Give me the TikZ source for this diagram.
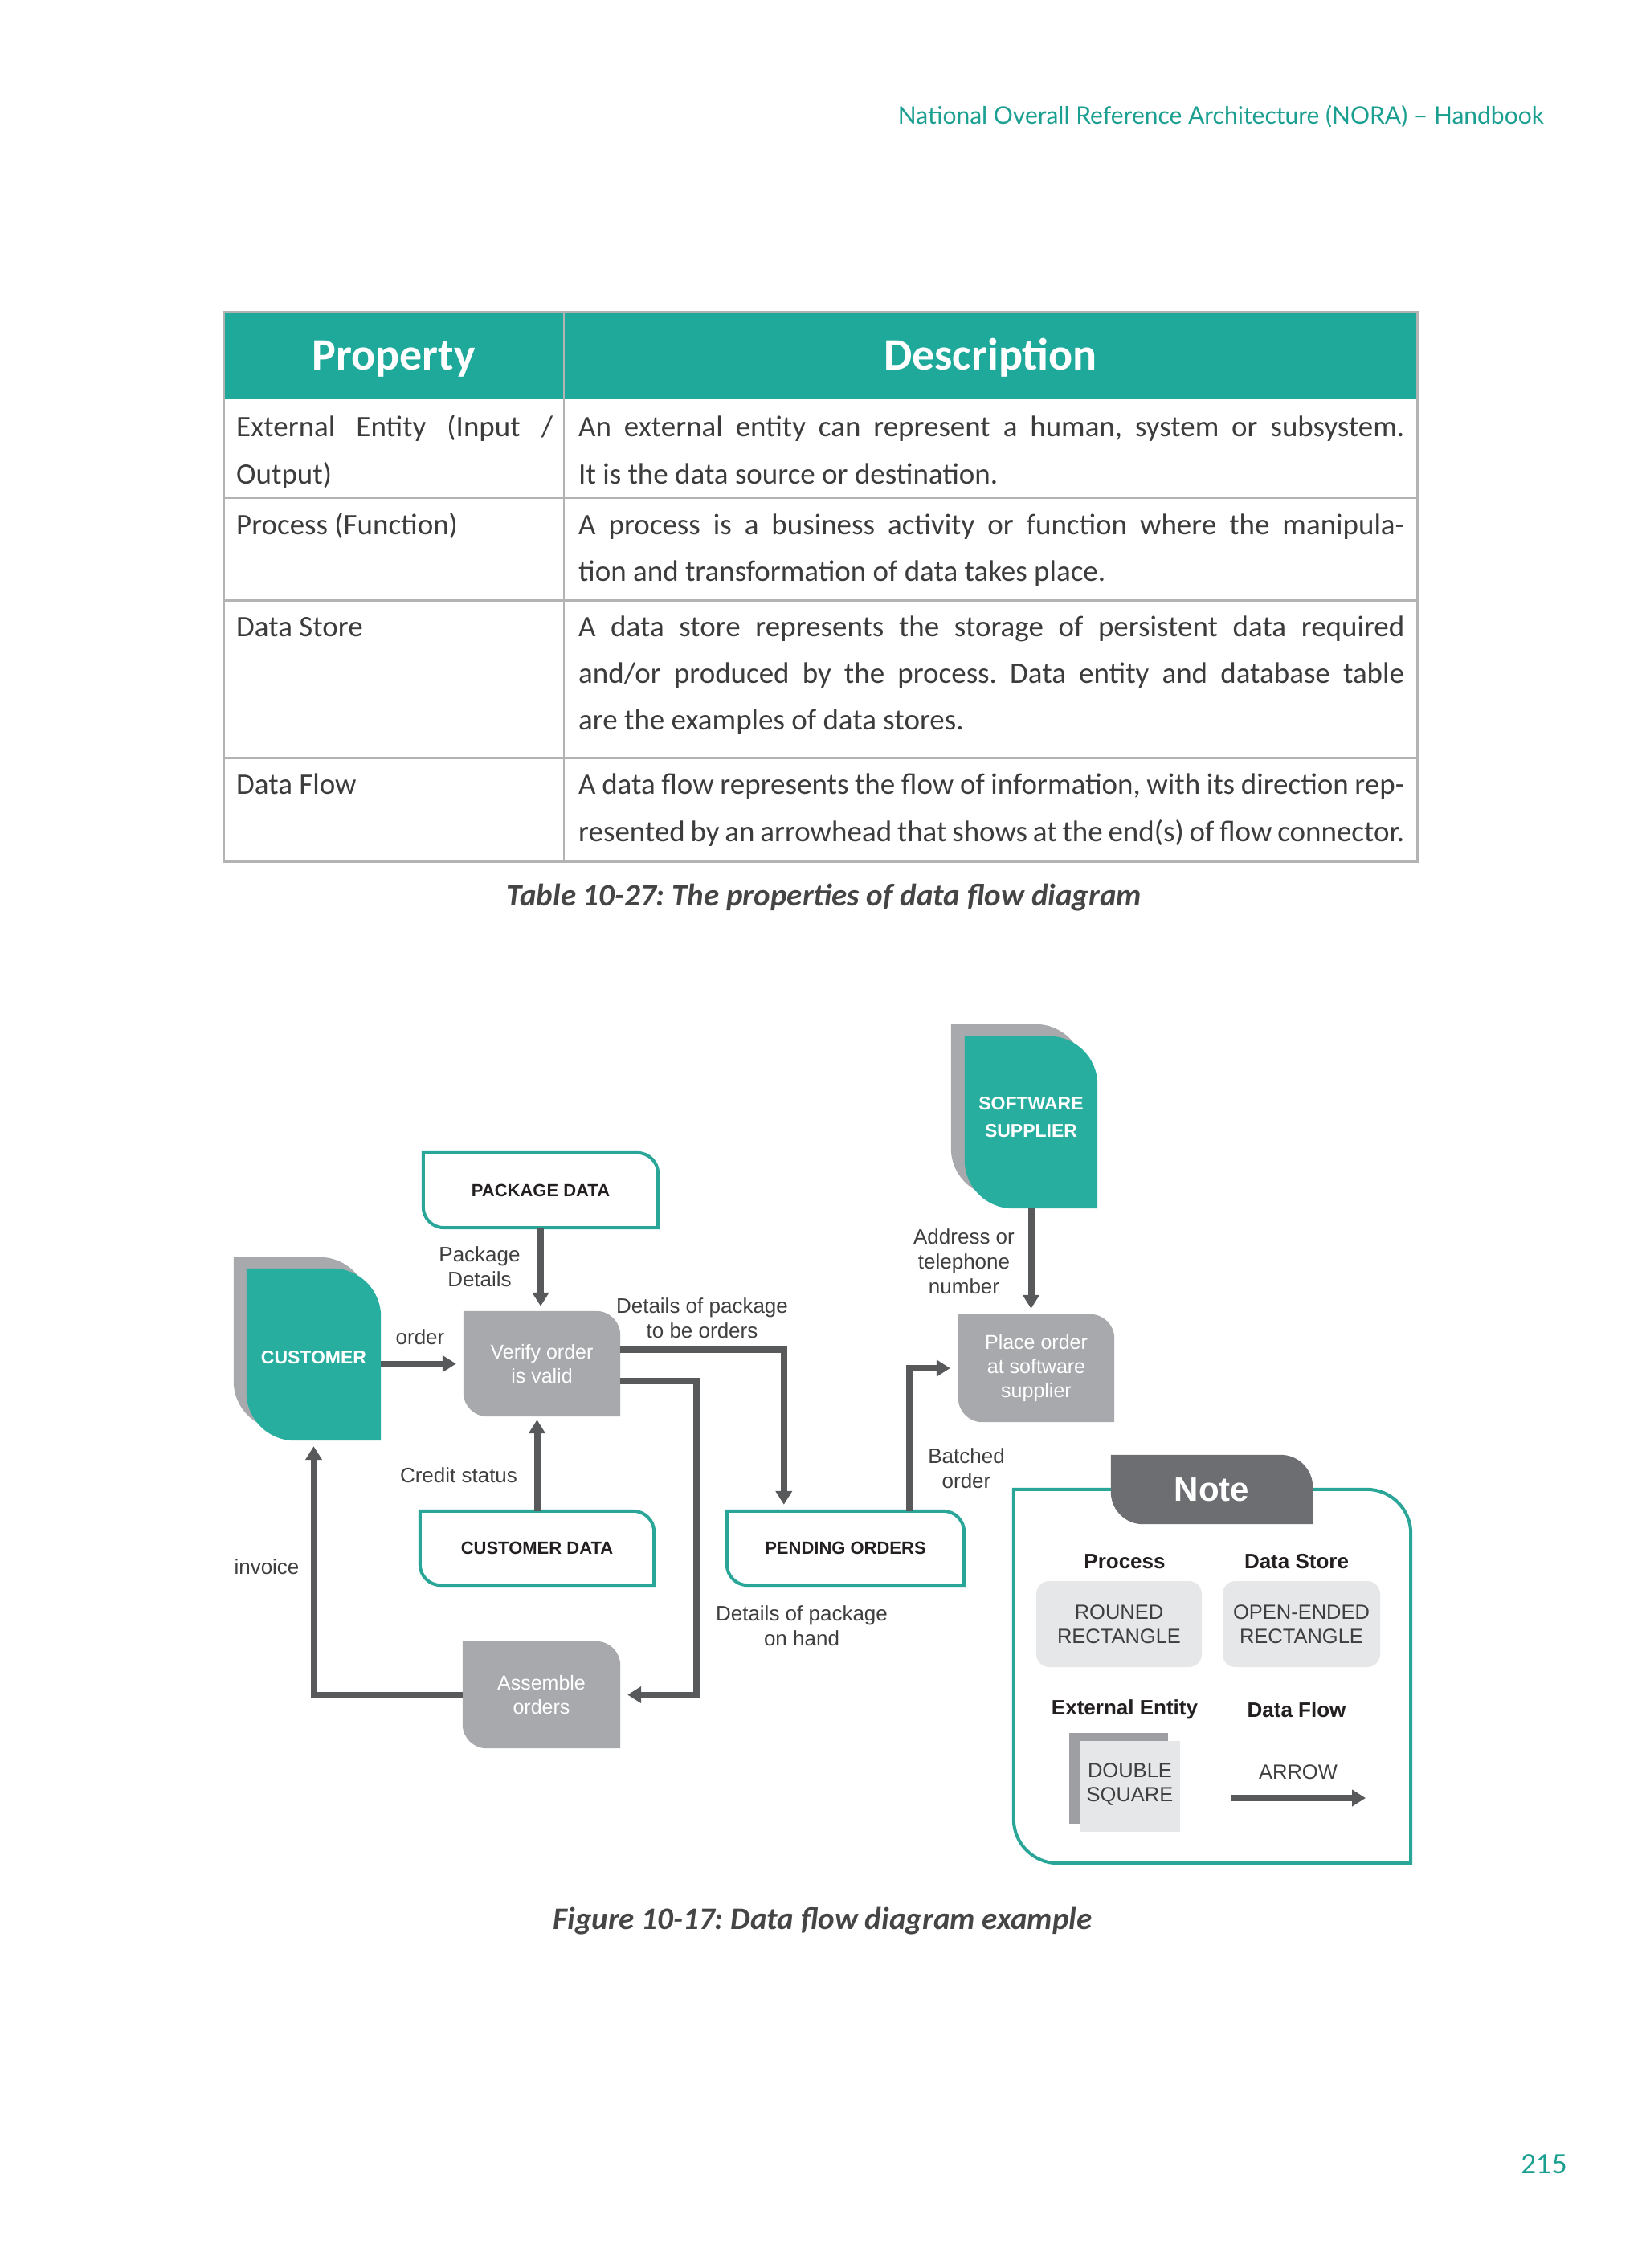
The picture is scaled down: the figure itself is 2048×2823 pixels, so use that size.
\documentclass[tikz,border=0pt]{standalone}
\usepackage{fontspec}
\setmainfont{Carlito}
\newfontfamily\arialf{Liberation Sans}
\newfontfamily\gillf{Lato}
\usetikzlibrary{arrows.meta,calc}
\pgfdeclarelayer{background}
\pgfsetlayers{background,main}
\definecolor{hdteal}{HTML}{1FA99B}
\definecolor{entteal}{HTML}{27AE9F}
\definecolor{dsteal}{HTML}{2AA699}
\definecolor{pgteal}{HTML}{1B9F91}
\definecolor{procgray}{HTML}{A7A9AC}
\definecolor{backgray}{HTML}{A7A9AC}
\definecolor{flowgray}{HTML}{58595B}
\definecolor{tabgray}{HTML}{6D6E71}
\definecolor{lightgray}{HTML}{E6E7E8}
\definecolor{dsbackgray}{HTML}{9D9FA2}
\definecolor{rulegray}{HTML}{B3B3B3}
\definecolor{bodytext}{HTML}{3C3C3C}
\definecolor{captext}{HTML}{454545}
\definecolor{lbltext}{HTML}{3F3F40}
\definecolor{darktext}{HTML}{231F20}
\newcommand\fsz[2]{\fontsize{#1}{#2}\selectfont}
\newcommand\trbl[4]{\path[#1] let \p1=#2, \p2=#3 in (\x1,\y1) -- ({\x2-#4pt},\y1) .. controls ({\x2-0.448*#4pt},\y1) and (\x2,{\y1-0.448*#4pt}) .. (\x2,{\y1-#4pt}) -- (\x2,\y2) -- ({\x1+#4pt},\y2) .. controls ({\x1+0.448*#4pt},\y2) and (\x1,{\y2+0.448*#4pt}) .. (\x1,{\y2+#4pt}) -- cycle;}
\frenchspacing
\begin{document}
\begin{tikzpicture}[x=1pt,y=-1pt,
  flow/.style={draw=flowgray, line width=8pt, -{Triangle[length=17pt,width=20pt]}},
  lbl/.style={font=\arialf\fsz{26}{31}, text=lbltext, align=center, inner sep=0pt},
  proc/.style={inner sep=0pt, align=center, text=white, font=\arialf\fsz{25}{30}},
  ent/.style={inner sep=0pt, align=center, text=white, font=\arialf\bfseries\fsz{23}{34}},
  store/.style={inner sep=0pt, align=center, text=darktext, font=\arialf\bfseries\fsz{22}{26}},
  cell/.style={anchor=base west, inner sep=0pt, text=bodytext, font=\fsz{37}{46}},
  hcell/.style={anchor=base, inner sep=0pt, text=white, font=\bfseries\fsz{56}{60}},
  notehd/.style={inner sep=0pt, text=darktext, font=\arialf\bfseries\fsz{26}{30}},
  notebody/.style={inner sep=0pt, align=center, text=lbltext, font=\arialf\fsz{25.5}{30}},
  capt/.style={anchor=base, inner sep=0pt, text=captext, font=\bfseries\itshape\fsz{39}{44}},
]
\useasboundingbox (0,0) rectangle (2048,2823);

% running head and page number
\node[anchor=base east, inner sep=0pt, text=pgteal, font=\gillf\fsz{30}{34}] (runhead) at (1922,155) {National Overall Reference Architecture (NORA) – Handbook};
\node[anchor=base, inner sep=0pt, text=pgteal, font=\gillf\fsz{33}{36}] (pnum) at (1922,2705) {215};

% table
\fill[hdteal] (278,388) rectangle (1764,497);
\draw[rulegray, line width=3pt] (278,388) rectangle (1764,1072);
\draw[rulegray, line width=3pt] (278,619) -- (1764,619) (278,747) -- (1764,747) (278,943) -- (1764,943);
\draw[rulegray, line width=2pt] (702,388) -- (702,1072);
\node[hcell] (hprop) at (490,460) {Property};
\node[hcell] (hdesc) at (1233,460) {Description};
\node[cell] (p1a) at (294,543) {\makebox[394pt][s]{External Entity (Input /}};
\node[cell] (p1b) at (294,602) {Output)};
\node[cell] (d1a) at (720,543) {\makebox[1028pt][s]{An external entity can represent a human, system or subsystem.}};
\node[cell] (d1b) at (720,602) {It is the data source or destination.};
\node[cell] (p2) at (294,665) {Process (Function)};
\node[cell] (d2a) at (720,665) {\makebox[1028pt][s]{A process is a business activity or function where the manipula-}};
\node[cell] (d2b) at (720,723) {tion and transformation of data takes place.};
\node[cell] (p3) at (294,792) {Data Store};
\node[cell] (d3a) at (720,792) {\makebox[1028pt][s]{A data store represents the storage of persistent data required}};
\node[cell] (d3b) at (720,850) {\makebox[1028pt][s]{and/or produced by the process. Data entity and database table}};
\node[cell] (d3c) at (720,908) {are the examples of data stores.};
\node[cell] (p4) at (294,988) {Data Flow};
\node[cell] (d4a) at (720,988) {\makebox[1028pt][s]{A data flow represents the flow of information, with its direction rep-}};
\node[cell] (d4b) at (720,1047) {\makebox[1028pt][s]{resented by an arrowhead that shows at the end(s) of flow connector.}};
\node[capt] (tcap) at (1026,1127) {Table 10-27: The properties of data flow diagram};

% diagram nodes
\node[ent, minimum width=167pt, minimum height=214pt, text height=23pt, text depth=0pt] (cust) at (390.5,1686) {CUSTOMER};
\node[ent, minimum width=165pt, minimum height=214pt, text depth=13pt] (sw) at (1283.5,1397) {SOFTWARE\\SUPPLIER};
\node[proc, minimum width=195pt, minimum height=131pt] (verify) at (674.5,1697.5) {Verify order\\is valid};
\node[proc, minimum width=194pt, minimum height=134pt] (place) at (1290,1703) {Place order\\at software\\supplier};
\node[proc, minimum width=196pt, minimum height=133pt] (assemble) at (674,2109.5) {Assemble\\orders};
\node[store, minimum width=292pt, minimum height=93pt] (pkg) at (673,1481.5) {PACKAGE DATA};
\node[store, minimum width=291pt, minimum height=92pt] (custdata) at (668.5,1927) {CUSTOMER DATA};
\node[store, minimum width=295pt, minimum height=92pt] (pending) at (1052.5,1927) {PENDING ORDERS};

% labels
\node[lbl] (pkglbl) at (597,1577) {Package\\Details};
\node[lbl] (orderlbl) at (523,1664) {order};
\node[lbl] (dplbl) at (874,1641) {Details of package\\to be orders};
\node[lbl] (addrlbl) at (1200,1570) {Address or\\telephone\\number};
\node[lbl] (creditlbl) at (571,1836) {Credit status};
\node[lbl] (invlbl) at (332,1950) {invoice};
\node[lbl] (dohlbl) at (998,2024) {Details of package\\on hand};
\node[lbl] (batchlbl) at (1203,1828) {Batched\\order};

% connectors
\draw[flow, shorten >=9pt] (cust.east |- verify.west) -- (verify.west);
\draw[flow, shorten >=6pt] (pkg.south) -- (pkg.south |- verify.north);
\draw[flow, shorten >=4pt] (custdata.north) -- (custdata.north |- verify.south);
\draw[flow, shorten >=8pt] ($(verify.north east)+(0,48)$) -| ($(pending.north west)+(71,0)$);
\draw[flow, shorten >=9pt] ($(verify.south east)+(0,-44)$) -- ++(95,0) |- (assemble.east);
\draw[flow, shorten >=7pt] (assemble.west) -| (cust.south);
\draw[flow, shorten >=10pt] ($(pending.north west)+(227,0)$) |- (place.west);
\draw[flow, shorten >=7pt] (sw.south) -- (sw.south |- place.north);

% note
\node[inner sep=0pt, minimum width=494pt, minimum height=465pt] (notebox) at (1509,2086.5) {};
\node[inner sep=0pt, minimum width=251pt, minimum height=86pt, text=white, font=\arialf\bfseries\fsz{42}{46}] (notetab) at (1508.5,1854) {Note};
\node[notehd] (nproc) at (1400,1944) {Process};
\node[notehd] (nds) at (1614,1944) {Data Store};
\node[notehd] (nee) at (1400,2128) {External Entity};
\node[notehd] (ndf) at (1614,2128) {Data Flow};
\node[notebody, fill=lightgray, rounded corners=16pt, minimum width=206pt, minimum height=107pt] (nrr) at (1393,2021.5) {ROUNED\\RECTANGLE};
\node[notebody, fill=lightgray, rounded corners=16pt, minimum width=196pt, minimum height=107pt] (noe) at (1620,2021.5) {OPEN-ENDED\\RECTANGLE};
\node[notebody, fill=lightgray, minimum width=125pt, minimum height=113pt, text depth=9pt] (nsq) at (1406.5,2223.5) {DOUBLE\\SQUARE};
\node[notebody] (narrow) at (1616,2206) {ARROW};
\coordinate (na1) at (1533,2238);
\coordinate (na2) at (1700,2238);
\draw[flow] (na1) -- (na2);

\node[capt] (fcap) at (1024,2401) {Figure 10-17: Data flow diagram example};

% shapes behind the texts
\begin{pgfonlayer}{background}
\fill[white] (0,0) rectangle (2048,2823);
\trbl{fill=backgray}{($(cust.north west)+(-16,-14)$)}{($(cust.south east)+(-16,-14)$)}{60}
\trbl{fill=entteal}{(cust.north west)}{(cust.south east)}{60}
\trbl{fill=backgray}{($(sw.north west)+(-17,-15)$)}{($(sw.south east)+(-17,-15)$)}{60}
\trbl{fill=entteal}{(sw.north west)}{(sw.south east)}{60}
\trbl{fill=procgray}{(verify.north west)}{(verify.south east)}{30}
\trbl{fill=procgray}{(place.north west)}{(place.south east)}{30}
\trbl{fill=procgray}{(assemble.north west)}{(assemble.south east)}{30}
\trbl{draw=dsteal, line width=4pt, fill=white}{(pkg.north west)}{(pkg.south east)}{26}
\trbl{draw=dsteal, line width=4pt, fill=white}{(custdata.north west)}{(custdata.south east)}{26}
\trbl{draw=dsteal, line width=4pt, fill=white}{(pending.north west)}{(pending.south east)}{26}
\trbl{draw=dsteal, line width=4pt}{(notebox.north west)}{(notebox.south east)}{55}
\trbl{fill=tabgray}{(notetab.north west)}{(notetab.south east)}{40}
\fill[dsbackgray] (1331,2157) rectangle (1454,2270);
\end{pgfonlayer}
\end{tikzpicture}
\end{document}
